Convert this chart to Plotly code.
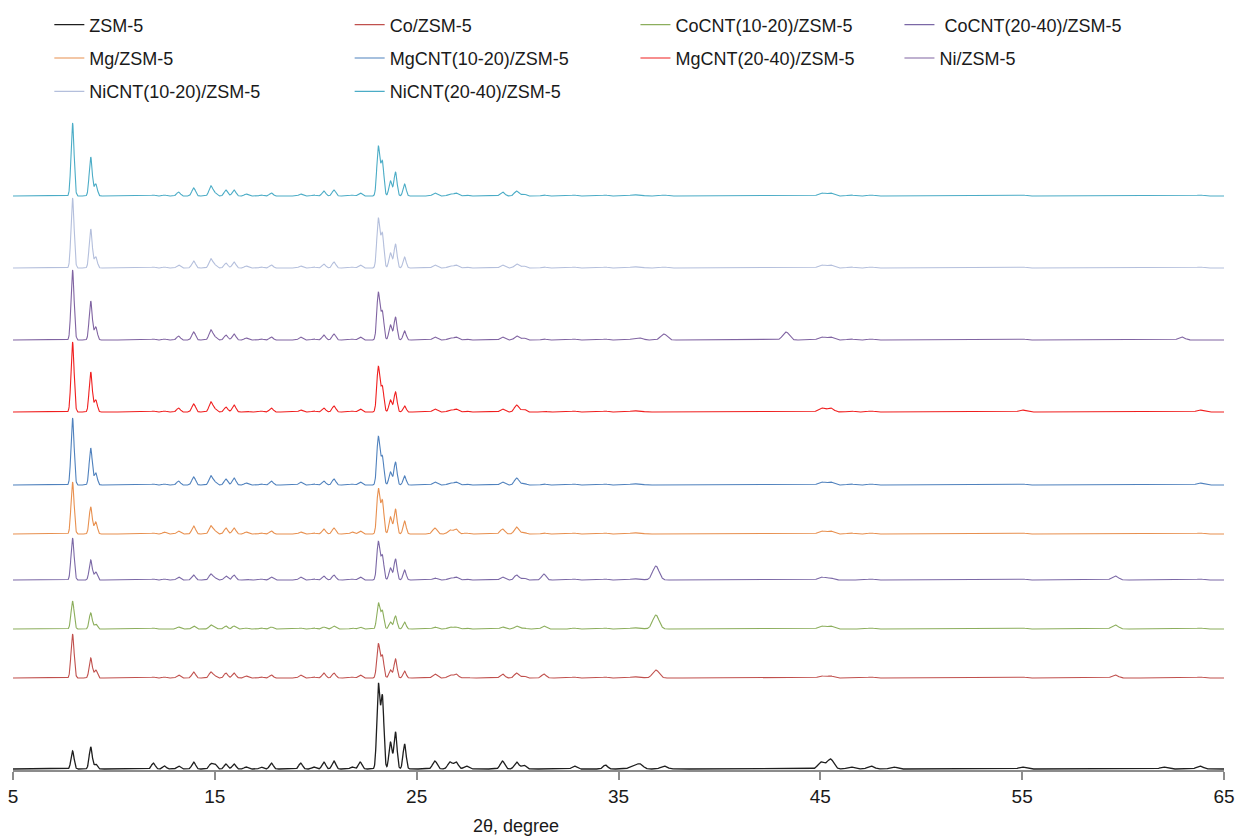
import numpy as np
import plotly.graph_objects as go

# ---------------- data ----------------
SERIES = ["ZSM-5", "Co/ZSM-5", "CoCNT(10-20)/ZSM-5", " CoCNT(20-40)/ZSM-5",
          "Mg/ZSM-5", "MgCNT(10-20)/ZSM-5", "MgCNT(20-40)/ZSM-5", "Ni/ZSM-5",
          "NiCNT(10-20)/ZSM-5", "NiCNT(20-40)/ZSM-5"]

# vertical stacking offset of each pattern (a.u.)
OFFSETS = [1, 92, 141, 190, 236, 285, 358, 430, 502, 574]

# reflection positions, 2θ (degree)
PEAK_2THETA = [7.95, 8.85, 9.1, 11.95, 12.5, 13.2, 13.95, 14.8, 15.0, 15.55,
               15.95, 16.55, 17.3, 17.8, 19.25, 19.9, 20.4, 20.9, 21.8, 22.2,
               23.1, 23.3, 23.7, 23.95, 24.4, 25.9, 26.65, 26.95, 27.45, 29.25,
               29.95, 30.3, 31.3, 32.8, 34.35, 35.7, 36.05, 36.85, 37.25, 43.3,
               45.05, 45.5, 46.5, 47.5, 48.6, 55.0, 59.6, 62.0, 62.9, 63.8]

# peak intensities (a.u.) for each sample, same order as PEAK_2THETA
I_ZSM5 = [18, 22, 5, 6, 3, 3, 7, 5, 5, 5, 5, 2, 2, 6, 6, 2, 7, 8, 2, 7,
          84, 72, 27, 37, 25, 8, 7, 7, 3, 8, 7, 4, 0, 3, 4, 3, 5, 0, 3, 0,
          7, 10, 2, 3, 2, 2, 0, 2, 0, 3]
I_CO = [44, 20, 8, 1, 1, 3, 6, 6, 2, 5, 5, 2, 1, 3, 3, 1, 5, 5, 1, 3,
        34, 22, 8, 19, 7, 4, 3, 4, 1, 4, 5, 2, 4, 1, 1, 1, 1, 8, 0, 0,
        2, 2, 0, 1, 0, 1, 3, 0, 0, 1]
I_COCNT1020 = [28, 16, 5, 1, 0, 2, 3, 4, 1, 3, 3, 1, 1, 2, 1, 1, 2, 3, 1, 2,
               26, 18, 7, 13, 7, 2, 2, 2, 1, 2, 3, 1, 3, 1, 1, 1, 1, 14, 0, 0,
               3, 3, 0, 1, 0, 1, 4, 0, 0, 1]
I_COCNT2040 = [42, 20, 8, 1, 1, 3, 5, 6, 2, 4, 5, 1, 1, 3, 3, 1, 4, 5, 1, 3,
               38, 24, 12, 21, 10, 2, 2, 3, 1, 3, 5, 2, 6, 1, 1, 1, 1, 14, 0, 0,
               3, 2, 0, 1, 0, 1, 4, 0, 0, 1]
I_MG = [52, 27, 12, 1, 2, 3, 8, 8, 3, 6, 6, 2, 1, 3, 2, 1, 5, 6, 2, 3,
        45, 33, 17, 25, 13, 6, 4, 5, 1, 5, 7, 2, 1, 1, 1, 1, 1, 0, 0, 0,
        3, 3, 1, 1, 0, 1, 0, 0, 0, 1]
I_MGCNT1020 = [67, 37, 12, 1, 1, 4, 8, 9, 3, 6, 7, 2, 1, 4, 3, 1, 4, 6, 1, 3,
               48, 28, 13, 23, 9, 3, 2, 3, 1, 3, 7, 2, 1, 1, 1, 1, 1, 0, 0, 0,
               3, 3, 1, 1, 0, 1, 0, 0, 0, 2]
I_MGCNT2040 = [70, 40, 12, 1, 1, 4, 8, 10, 3, 5, 7, 1, 1, 4, 2, 1, 4, 6, 1, 3,
               45, 25, 12, 20, 6, 3, 2, 3, 1, 3, 7, 3, 1, 1, 1, 1, 1, 0, 0, 0,
               4, 4, 1, 1, 0, 2, 0, 0, 0, 2]
I_NI = [70, 39, 13, 1, 1, 4, 8, 10, 3, 5, 6, 2, 1, 3, 3, 1, 5, 6, 1, 3,
        47, 28, 15, 23, 9, 3, 2, 3, 1, 3, 4, 2, 1, 1, 1, 1, 2, 0, 6, 8,
        3, 3, 1, 1, 0, 1, 0, 0, 3, 0]
I_NICNT1020 = [70, 39, 11, 1, 1, 3, 7, 9, 3, 5, 6, 2, 1, 3, 2, 1, 4, 6, 1, 3,
               49, 34, 15, 24, 11, 3, 2, 3, 1, 3, 4, 2, 1, 1, 1, 1, 1, 0, 1, 0,
               3, 3, 1, 1, 0, 1, 0, 0, 0, 1]
I_NICNT2040 = [73, 39, 12, 1, 1, 4, 8, 10, 3, 6, 6, 2, 1, 3, 2, 1, 5, 6, 1, 3,
               49, 34, 15, 24, 12, 3, 2, 3, 1, 4, 5, 2, 1, 1, 1, 1, 1, 0, 1, 0,
               3, 3, 1, 1, 0, 1, 0, 0, 0, 1]

INTENSITIES = [I_ZSM5, I_CO, I_COCNT1020, I_COCNT2040, I_MG, I_MGCNT1020,
               I_MGCNT2040, I_NI, I_NICNT1020, I_NICNT2040]

X_TICKS = [5, 15, 25, 35, 45, 55, 65]

# ---------------- style ----------------
COLORS = ["#1e1e1e", "#c0504d", "#8cae5c", "#7b68a6", "#e8904f", "#4f81bd",
          "#f01e1e", "#8064a2", "#b4bfdc", "#4bacc6"]
# peak profile width (sigma, degree) – style of the drawn reflections
PEAK_SIGMA = []
for p in PEAK_2THETA:
    if p < 9.5:
        PEAK_SIGMA.append(0.075)
    elif p < 22.5:
        PEAK_SIGMA.append(0.09)
    elif p < 25:
        PEAK_SIGMA.append(0.075)
    elif p < 35:
        PEAK_SIGMA.append(0.11)
    else:
        PEAK_SIGMA.append(0.16)

FONT = "Liberation Sans, Arial, sans-serif"

grid = np.round(np.arange(5.0, 65.0001, 0.01), 3)
pos = np.array(PEAK_2THETA)
sig = np.array(PEAK_SIGMA)

# which legend column each series belongs to
LEGEND_OF = ["legend", "legend2", "legend3", "legend4",
             "legend", "legend2", "legend3", "legend4",
             "legend", "legend2"]

fig = go.Figure()
for name, inten, off, col, lg in zip(SERIES, INTENSITIES, OFFSETS, COLORS, LEGEND_OF):
    h = np.array(inten, dtype=float)
    prof = (h[:, None] * np.exp(-((grid[None, :] - pos[:, None]) ** 2) / (2 * sig[:, None] ** 2))).sum(axis=0)
    fig.add_trace(go.Scatter(
        x=grid, y=off + prof, mode="lines", name=name,
        line=dict(color=col, width=1.3 if name == "ZSM-5" else 1.1),
        legend=lg, legendgroup=name, hoverinfo="skip"))

leg_common = dict(orientation="v", xanchor="left", yanchor="top",
                  font=dict(family=FONT, size=18, color="#1a1a1a"),
                  bgcolor="rgba(0,0,0,0)", tracegroupgap=7, itemwidth=30)

fig.update_layout(
    width=1240, height=838,
    margin=dict(l=13, r=16, t=110, b=68, autoexpand=False),
    paper_bgcolor="white", plot_bgcolor="white",
    showlegend=True,
    legend=dict(x=0.030, y=1.157, **leg_common),
    legend2=dict(x=0.278, y=1.157, **leg_common),
    legend3=dict(x=0.514, y=1.157, **leg_common),
    legend4=dict(x=0.732, y=1.157, **leg_common),
    xaxis=dict(range=[5, 65], tickvals=X_TICKS, ticktext=[str(t) for t in X_TICKS],
               showgrid=False, zeroline=False, showline=True,
               linecolor="#8c8c8c", linewidth=1.5,
               ticks="outside", ticklen=8, tickwidth=1.5, tickcolor="#8c8c8c",
               tickfont=dict(family=FONT, size=19, color="#1a1a1a")),
    yaxis=dict(range=[0, 660], visible=False, showgrid=False, zeroline=False),
    annotations=[dict(text="2θ, degree", xref="paper", yref="paper",
                      x=0.4154, y=-0.085, xanchor="center", yanchor="middle",
                      showarrow=False,
                      font=dict(family=FONT, size=18, color="#1a1a1a"))],
)

fig.write_html("out.html", config={"displayModeBar": False},
               post_script="document.body.style.margin='0';document.body.style.overflow='hidden';")
